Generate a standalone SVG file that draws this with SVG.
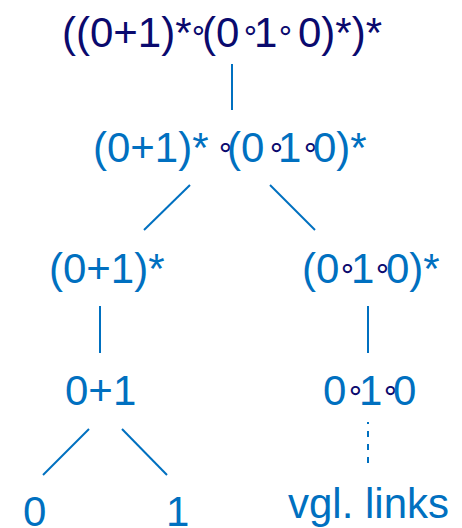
<svg xmlns="http://www.w3.org/2000/svg" width="462" height="528" viewBox="0 0 462 528">
<style>
text{font-family:"Liberation Sans",Arial,sans-serif;font-size:42px;fill:#0070c0}
.root{fill:#0a0a6e}
.o{font-family:"DejaVu Sans",sans-serif;font-size:30px;fill:#0a0a6e}
.c line{stroke:#0070c0;stroke-width:2}
</style>
<rect width="462" height="528" fill="#fff"/>
<g id="n-root">
<text class="root" y="47"><tspan x="62">((0+1)*</tspan><tspan class="o" x="189" y="40">∘</tspan><tspan x="202" y="47">(0</tspan><tspan class="o" x="241" y="40">∘</tspan><tspan x="254" y="47">1</tspan><tspan class="o" x="276" y="40">∘</tspan><tspan x="298" y="47">0)*)*</tspan></text>
</g>
<g id="n-concat">
<text y="162"><tspan x="93">(0+1)*</tspan><tspan class="o" x="216" y="157">∘</tspan><tspan x="227" y="162">(0</tspan><tspan class="o" x="267" y="157">∘</tspan><tspan x="278" y="162">1</tspan><tspan class="o" x="301" y="157">∘</tspan><tspan x="313" y="162">0)*</tspan></text>
</g>
<g id="n-star1">
<text x="49" y="283">(0+1)*</text>
</g>
<g id="n-star2">
<text y="283"><tspan x="302">(0</tspan><tspan class="o" x="338" y="278">∘</tspan><tspan x="351" y="283">1</tspan><tspan class="o" x="373" y="278">∘</tspan><tspan x="386" y="283">0)*</tspan></text>
</g>
<g id="n-plus">
<text x="65" y="405">0+1</text>
</g>
<g id="n-seq">
<text y="405"><tspan x="323">0</tspan><tspan class="o" x="346" y="400">∘</tspan><tspan x="359" y="405">1</tspan><tspan class="o" x="381" y="400">∘</tspan><tspan x="393" y="405">0</tspan></text>
</g>
<g id="n-zero">
<text x="23" y="526">0</text>
</g>
<g id="n-one">
<text x="166" y="526">1</text>
</g>
<g id="n-ref">
<text x="288" y="518">vgl. links</text>
</g>
<g id="connectors" class="c">
<line x1="232" y1="64" x2="232" y2="110"/>
<line x1="190" y1="185" x2="144" y2="230"/>
<line x1="270" y1="185" x2="315" y2="230"/>
<line x1="100" y1="306" x2="100" y2="353"/>
<line x1="368" y1="306" x2="368" y2="353"/>
<line x1="89" y1="429" x2="43" y2="475"/>
<line x1="122" y1="429" x2="167" y2="475"/>
<line x1="368" y1="422" x2="368" y2="467" stroke-dasharray="6 7" stroke-dashoffset="4"/>
</g>
</svg>
